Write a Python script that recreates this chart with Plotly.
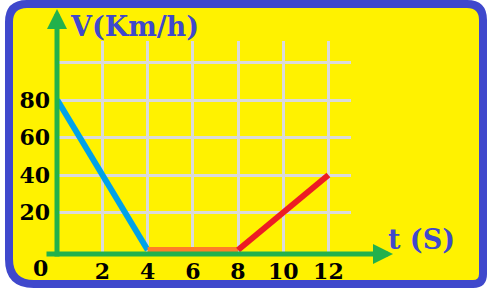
import plotly.graph_objects as go

# ---- data ----
time_s = [0, 4, 8, 12]
speed_kmh = [80, 0, 0, 40]
segment_colors = ["#00a2e8", "#ff7f27", "#ed1c24"]
x_tick_vals = [2, 4, 6, 8, 10, 12]
x_tick_text = ["2", "4", "6", "8", "10", "12"]
y_tick_vals = [20, 40, 60, 80, 100]
y_tick_text = ["20", "40", "60", "80", ""]
origin_label = "0"
x_label = "t (S)"
y_label = "V(Km/h)"

# ---- layout geometry (pixels) ----
W, H = 489, 288
L, R, T, B = 55, 138, 41, 34
pw = W - L - R
ph = H - T - B


def px(x):
    return (x - L) / pw


def py(y):
    return 1 - (y - T) / ph


fig = go.Figure()
for i, c in enumerate(segment_colors):
    fig.add_trace(go.Scatter(
        x=time_s[i:i + 2], y=speed_kmh[i:i + 2], mode="lines",
        line=dict(color=c, width=6), hoverinfo="skip", showlegend=False))

# rounded yellow panel with blue border
l, r, t, b = 9, 483, 4, 284
rtl, rtr, rbr, rbl = 18, 16, 10, 25


def P(x, y):
    return f"{px(x):.5f},{py(y):.5f}"


path = (f"M{P(l + rtl, t)} L{P(r - rtr, t)} Q{P(r, t)} {P(r, t + rtr)} "
        f"L{P(r, b - rbr)} Q{P(r, b)} {P(r - rbr, b)} "
        f"L{P(l + rbl, b)} Q{P(l, b)} {P(l, b - rbl)} "
        f"L{P(l, t + rtl)} Q{P(l, t)} {P(l + rtl, t)} Z")
fig.add_shape(type="path", path=path, xref="paper", yref="paper",
              fillcolor="#fff200", line=dict(color="#3f48cc", width=8),
              layer="below")

green = "#22b14c"
# x axis arrow
fig.add_annotation(x=px(393), y=py(254), xref="paper", yref="paper",
                   ax=45 - 393, ay=0, axref="pixel", ayref="pixel",
                   text="", showarrow=True, arrowhead=2, arrowsize=0.8,
                   arrowwidth=5, arrowcolor=green)
# y axis arrow
fig.add_annotation(x=px(57), y=py(9), xref="paper", yref="paper",
                   ax=0, ay=258 - 9, axref="pixel", ayref="pixel",
                   text="", showarrow=True, arrowhead=2, arrowsize=0.8,
                   arrowwidth=5, arrowcolor=green)

title_font = dict(family="DejaVu Serif", size=27, color="#3f48cc", weight="bold")
fig.add_annotation(x=px(134), y=py(26), xref="paper", yref="paper",
                   xanchor="center", yanchor="middle",
                   text=y_label, showarrow=False, font=title_font)
fig.add_annotation(x=px(421), y=py(239), xref="paper", yref="paper",
                   xanchor="center", yanchor="middle",
                   text=x_label, showarrow=False, font=title_font)

tick_font = dict(family="DejaVu Serif", size=22, color="black", weight="bold")
fig.add_annotation(x=px(40), y=py(268), xref="paper", yref="paper",
                   xanchor="center", yanchor="middle",
                   text=origin_label, showarrow=False, font=tick_font)

grid = "#dadada"
fig.update_xaxes(range=[-0.1, 13], tickvals=x_tick_vals, ticktext=x_tick_text,
                 showgrid=True, gridcolor=grid, gridwidth=3, zeroline=False,
                 showline=False, ticks="", tickfont=tick_font, automargin=False,
                 ticklabelstandoff=2, fixedrange=True)
fig.update_yaxes(range=[-2.13, 111.47], tickvals=y_tick_vals, ticktext=y_tick_text,
                 showgrid=True, gridcolor=grid, gridwidth=3, zeroline=False,
                 showline=False, ticks="", tickfont=tick_font, automargin=False,
                 ticklabelstandoff=4, fixedrange=True)

fig.update_layout(width=W, height=H, margin=dict(l=L, r=R, t=T, b=B, autoexpand=False),
                  paper_bgcolor="white", plot_bgcolor="rgba(0,0,0,0)",
                  showlegend=False)

fig.write_html("out.html", config={"displayModeBar": False},
               post_script="document.body.style.margin='0';")
